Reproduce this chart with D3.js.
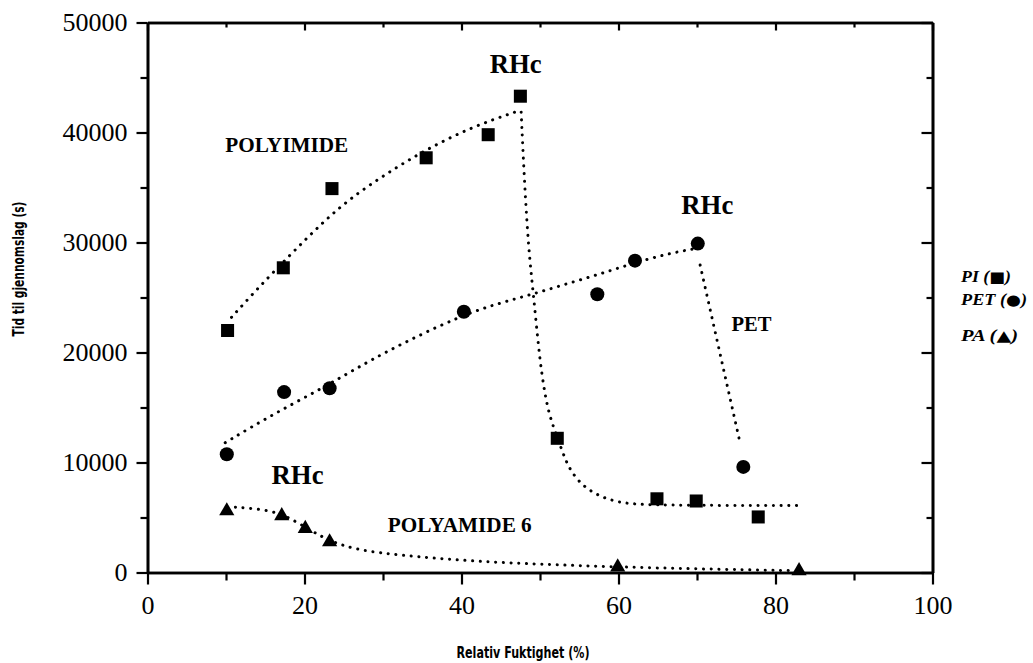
<!DOCTYPE html>
<html>
<head>
<meta charset="utf-8">
<script src="https://cdn.jsdelivr.net/npm/d3@7"></script>
<style>
  body { margin: 0; background: #fff; }
  svg { display: block; background: #fff; }
</style>
</head>
<body>
<svg id="chart" width="1033" height="663"></svg>
<script>
// Breakthrough time (s) measured at each relative humidity (%)
const piRH    = [10.2, 17.3, 23.5, 35.5, 43.4, 47.5, 52.2, 64.9, 69.9, 77.8];
const piTime  = [22000, 27700, 34900, 37700, 39800, 43300, 12200, 6700, 6500, 5050];
const petRH   = [10.1, 17.4, 23.2, 40.3, 57.3, 62.1, 70.1, 75.9];
const petTime = [10750, 16400, 16750, 23700, 25300, 28350, 29900, 9600];
const paRH    = [10.1, 17.1, 20.1, 23.2, 59.9, 83.0];
const paTime  = [5600, 5150, 4000, 2780, 500, 150];

// Trend curves drawn through each material's points, [RH, time]
const piRise  = [[10.7, 23200], [14, 25800], [18.2, 28900], [22, 31600], [25.6, 33900], [30.5, 36300],
                 [35.6, 38500], [41.3, 40500], [46.8, 41850]];
const piDrop  = [[47.6, 41850], [47.9, 37150], [48.5, 29600], [49.2, 25070], [50.0, 18970], [50.9, 15030], [51.7, 13250],
                 [52.8, 11090], [53.6, 9600], [55.1, 8060], [57.3, 7000], [59.8, 6390], [62.8, 6150], [70, 6100], [82.8, 6090]];
const petRise = [[9.9, 11800], [16, 14400], [23.2, 17100], [30, 20000], [40, 23400], [44.9, 24500], [49.2, 25330],
                 [53.4, 26240], [57.7, 27150], [61.9, 28120], [66.2, 28970], [69.6, 29420]];
const petDrop = [[70.4, 27950], [75.5, 11750]];
const paFall  = [[11.2, 5940], [16.0, 5680], [19.0, 4620], [22.0, 3300], [24.5, 2500], [28, 1900], [34, 1450],
                 [42, 1000], [50, 750], [60, 500], [70, 330], [82, 170]];

// Axis ticks
const xMajor = [0, 20, 40, 60, 80, 100];
const xMinor = [10, 30, 50, 70, 90];
const yMajor = [0, 10000, 20000, 30000, 40000, 50000];
const yMinor = [5000, 15000, 25000, 35000, 45000];

// Text placed on the plot, anchored in data units (left edge, baseline)
const notes = [
  { text: "POLYIMIDE",   rh: 9.9,  t: 38200, size: 22, len: 123 },
  { text: "RHc",         rh: 43.6, t: 45400, size: 28, len: 52 },
  { text: "RHc",         rh: 68.0, t: 32630, size: 28, len: 52 },
  { text: "RHc",         rh: 15.8, t: 8010,  size: 28, len: 52 },
  { text: "POLYAMIDE 6", rh: 30.6, t: 3700,  size: 22, len: 144 },
  { text: "PET",         rh: 74.4, t: 21960, size: 22, len: 40 }
];
const legendItems = [
  { name: "PI",  glyph: "\u25A0", len: 50 },
  { name: "PET", glyph: "\u25CF", len: 66 },
  { name: "PA",  glyph: "\u25B2", len: 57 }
];

const svg = d3.select("#chart");
const x = d3.scaleLinear().domain([0, 100]).range([147.5, 932.5]);
const y = d3.scaleLinear().domain([0, 50000]).range([572.5, 22.5]);

const serif = "'Liberation Serif', 'Times New Roman', serif";
const narrow = "'Liberation Sans Narrow', 'DejaVu Sans Condensed', 'Arial Narrow', sans-serif";

function styleAxis(g) {
  g.select(".domain").attr("stroke", "#000").attr("stroke-width", 2.6);
  g.selectAll(".tick line").attr("stroke", "#000").attr("stroke-width", 2.2);
  g.selectAll(".tick text").attr("fill", "#000")
    .style("font-family", serif).style("font-size", "26px");
}

// bottom axis: outward ticks with labels
svg.append("g").attr("transform", `translate(0,${y(0)})`)
  .call(d3.axisBottom(x).tickValues(xMinor).tickSize(8).tickSizeOuter(0).tickFormat(""))
  .call(styleAxis);
svg.append("g").attr("transform", `translate(0,${y(0)})`)
  .call(d3.axisBottom(x).tickValues(xMajor).tickSize(12).tickSizeOuter(0).tickPadding(11).tickFormat(d3.format("d")))
  .call(styleAxis);

// left axis: outward ticks with labels
svg.append("g").attr("transform", `translate(${x(0)},0)`)
  .call(d3.axisLeft(y).tickValues(yMinor).tickSize(7).tickSizeOuter(0).tickFormat(""))
  .call(styleAxis);
svg.append("g").attr("transform", `translate(${x(0)},0)`)
  .call(d3.axisLeft(y).tickValues(yMajor).tickSize(11).tickSizeOuter(0).tickPadding(9).tickFormat(d3.format("d")))
  .call(styleAxis);

// top and right frame: inward ticks, no labels
svg.append("g").attr("transform", `translate(0,${y(50000)})`)
  .call(d3.axisTop(x).tickValues(xMinor).tickSize(-5).tickSizeOuter(0).tickFormat(""))
  .call(styleAxis);
svg.append("g").attr("transform", `translate(0,${y(50000)})`)
  .call(d3.axisTop(x).tickValues(xMajor).tickSize(-8).tickSizeOuter(0).tickFormat(""))
  .call(styleAxis);
svg.append("g").attr("transform", `translate(${x(100)},0)`)
  .call(d3.axisRight(y).tickValues(yMinor).tickSize(-6).tickSizeOuter(0).tickFormat(""))
  .call(styleAxis);
svg.append("g").attr("transform", `translate(${x(100)},0)`)
  .call(d3.axisRight(y).tickValues(yMajor).tickSize(-11).tickSizeOuter(0).tickFormat(""))
  .call(styleAxis);

// dotted trend curves
const curve = d3.line().x(d => x(d[0])).y(d => y(d[1])).curve(d3.curveBasis);
svg.append("g").selectAll("path")
  .data([piRise, piDrop, petRise, petDrop, paFall])
  .join("path")
  .attr("d", curve)
  .attr("fill", "none")
  .attr("stroke", "#000")
  .attr("stroke-width", 3)
  .attr("stroke-linecap", "round")
  .attr("stroke-dasharray", "0.1 7.6");

// markers
function drawMarkers(rh, time, type, size) {
  const sym = d3.symbol().type(type).size(size);
  svg.append("g").selectAll("path")
    .data(rh.map((r, i) => [r, time[i]]))
    .join("path")
    .attr("transform", d => `translate(${x(d[0])},${y(d[1])})`)
    .attr("d", sym)
    .attr("fill", "#000");
}
drawMarkers(piRH, piTime, d3.symbolSquare, 170);
drawMarkers(petRH, petTime, d3.symbolCircle, 155);
drawMarkers(paRH, paTime, d3.symbolTriangle, 100);

// labels on the plot
svg.append("g").selectAll("text")
  .data(notes)
  .join("text")
  .attr("x", d => x(d.rh))
  .attr("y", d => y(d.t))
  .attr("textLength", d => d.len)
  .attr("lengthAdjust", "spacingAndGlyphs")
  .style("font-family", serif)
  .style("font-weight", "bold")
  .style("font-size", d => d.size + "px")
  .text(d => d.text);

// legend: material name with its marker glyph in parentheses
const legend = svg.append("g").selectAll("text")
  .data(legendItems)
  .join("text")
  .attr("x", 961)
  .attr("y", (d, i) => [282, 305, 341][i])
  .attr("textLength", d => d.len)
  .attr("lengthAdjust", "spacingAndGlyphs")
  .style("font-family", serif)
  .style("font-style", "italic")
  .style("font-weight", "bold")
  .style("font-size", "16px");
legend.append("tspan").text(d => d.name + " (");
legend.append("tspan")
  .style("font-family", "'DejaVu Sans', sans-serif")
  .style("font-style", "normal")
  .style("font-size", "15px")
  .text(d => d.glyph);
legend.append("tspan").text(")");

// axis titles
svg.append("text")
  .attr("transform", "translate(24,269) rotate(-90)")
  .attr("text-anchor", "middle")
  .attr("textLength", 135)
  .attr("lengthAdjust", "spacingAndGlyphs")
  .style("font-family", narrow)
  .style("font-weight", "bold")
  .style("font-size", "15px")
  .text("Tid til gjennomslag (s)");
svg.append("text")
  .attr("x", 523)
  .attr("y", 658)
  .attr("text-anchor", "middle")
  .attr("textLength", 133)
  .attr("lengthAdjust", "spacingAndGlyphs")
  .style("font-family", narrow)
  .style("font-weight", "bold")
  .style("font-size", "15px")
  .text("Relativ Fuktighet (%)");
</script>
</body>
</html>
